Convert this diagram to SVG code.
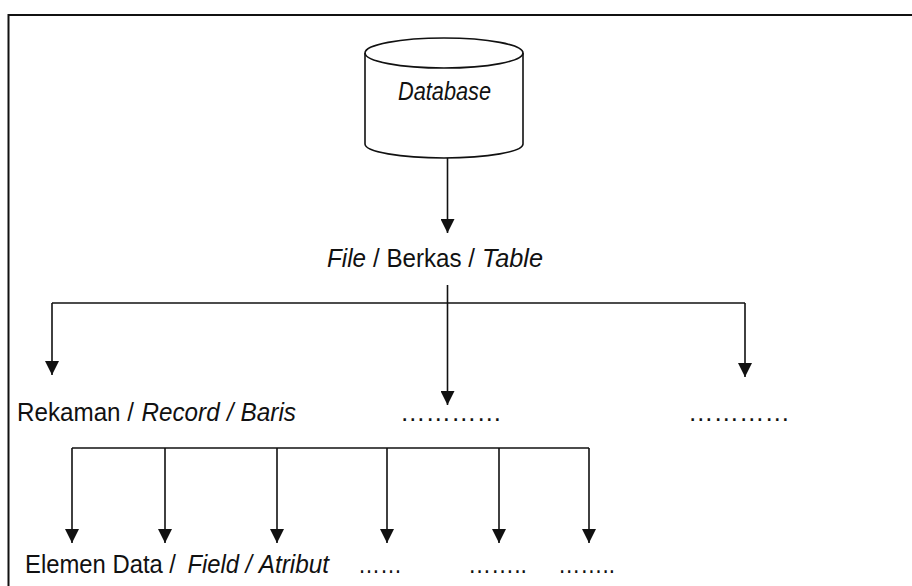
<svg xmlns="http://www.w3.org/2000/svg" width="912" height="586" viewBox="0 0 912 586">
<style>
  .ln { fill: none; stroke: #111; stroke-width: 1.6; }
  .t { font-family: "Liberation Sans", Arial, sans-serif; font-size: 26.5px; fill: #111; }
  .i { font-style: italic; }
</style>
<defs>
  <marker id="ah" viewBox="0 0 14 14" refX="14" refY="7" markerWidth="14" markerHeight="14" markerUnits="userSpaceOnUse" orient="auto">
    <path d="M0,0 L14,7 L0,14 z" fill="#111"/>
  </marker>
</defs>
<rect width="912" height="586" fill="#fff"/>
<path d="M8.5,586 V15 H912" fill="none" stroke="#111" stroke-width="2"/>

<g id="database">
  <path class="ln" d="M365,53 V144 A79,14 0 0 0 523,144 V53"/>
  <ellipse class="ln" cx="444" cy="53" rx="79" ry="15" fill="#fff"/>
  <text class="t i" x="398" y="100" font-size="24" textLength="93" lengthAdjust="spacingAndGlyphs">Database</text>
</g>

<g id="file">
  <text class="t i" x="327" y="267" textLength="39" lengthAdjust="spacingAndGlyphs">File</text>
  <text class="t" x="373" y="267" textLength="102" lengthAdjust="spacingAndGlyphs">/ Berkas /</text>
  <text class="t i" x="482" y="267" textLength="61" lengthAdjust="spacingAndGlyphs">Table</text>
</g>

<g id="record">
  <text class="t" x="17" y="421" textLength="117" lengthAdjust="spacingAndGlyphs">Rekaman /</text>
  <text class="t i" x="141.6" y="421" textLength="78" lengthAdjust="spacingAndGlyphs">Record</text>
  <text class="t i" x="227" y="421" textLength="6.5" lengthAdjust="spacingAndGlyphs">/</text>
  <text class="t i" x="240.5" y="421" textLength="55.5" lengthAdjust="spacingAndGlyphs">Baris</text>
</g>
<g id="record2">
  <text class="t" x="400" y="421" textLength="102" lengthAdjust="spacingAndGlyphs">…………</text>
</g>
<g id="record3">
  <text class="t" x="688" y="421" textLength="102" lengthAdjust="spacingAndGlyphs">…………</text>
</g>

<g id="field">
  <text class="t" x="25" y="573" textLength="151" lengthAdjust="spacingAndGlyphs">Elemen Data /</text>
  <text class="t i" x="187.5" y="573" textLength="51.5" lengthAdjust="spacingAndGlyphs">Field</text>
  <text class="t i" x="245.5" y="573" textLength="6.5" lengthAdjust="spacingAndGlyphs">/</text>
  <text class="t i" x="258.7" y="573" textLength="70.3" lengthAdjust="spacingAndGlyphs">Atribut</text>
</g>
<g id="field2">
  <text class="t" x="358" y="573" textLength="44" lengthAdjust="spacingAndGlyphs">……</text>
</g>
<g id="field3">
  <text class="t" x="468" y="573" textLength="59" lengthAdjust="spacingAndGlyphs">……..</text>
</g>
<g id="field4">
  <text class="t" x="558" y="573" textLength="57" lengthAdjust="spacingAndGlyphs">……..</text>
</g>

<g id="connectors">
  <path class="ln" d="M447.5,158 V233" marker-end="url(#ah)"/>
  <path class="ln" d="M447.5,285 V405" marker-end="url(#ah)"/>
  <path class="ln" d="M52,303 H745"/>
  <path class="ln" d="M52,303 V375" marker-end="url(#ah)"/>
  <path class="ln" d="M745,303 V377" marker-end="url(#ah)"/>
  <path class="ln" d="M72,448 H589"/>
  <path class="ln" d="M72,448 V543" marker-end="url(#ah)"/>
  <path class="ln" d="M165,448 V543" marker-end="url(#ah)"/>
  <path class="ln" d="M277,448 V543" marker-end="url(#ah)"/>
  <path class="ln" d="M387,448 V543" marker-end="url(#ah)"/>
  <path class="ln" d="M499,448 V543" marker-end="url(#ah)"/>
  <path class="ln" d="M589,448 V543" marker-end="url(#ah)"/>
</g>
</svg>
